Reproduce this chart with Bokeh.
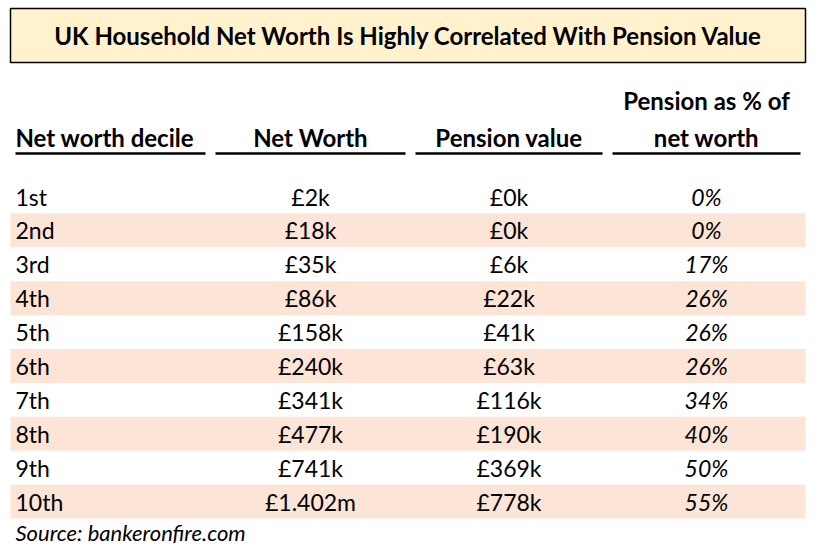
from bokeh.plotting import figure
from bokeh.models import Range1d, ColumnDataSource
from bokeh.core.properties import value
from bokeh.embed import file_html
from bokeh.resources import INLINE

title = "UK Household Net Worth Is Highly Correlated With Pension Value"
headers = ["Net worth decile", "Net Worth", "Pension value", "net worth"]
header_top = "Pension as % of"
deciles = ["1st", "2nd", "3rd", "4th", "5th", "6th", "7th", "8th", "9th", "10th"]
net_worth = ["£2k", "£18k", "£35k", "£86k", "£158k", "£240k", "£341k", "£477k", "£741k", "£1.402m"]
pension = ["£0k", "£0k", "£6k", "£22k", "£41k", "£63k", "£116k", "£190k", "£369k", "£778k"]
pct = ["0%", "0%", "17%", "26%", "26%", "26%", "34%", "40%", "50%", "55%"]
source = "Source: bankeronfire.com"

FONT = "Lato"
W, H = 808, 548
p = figure(width=W, height=H, output_backend="svg", toolbar_location=None,
           x_range=Range1d(0, W), y_range=Range1d(H, 0),
           min_border=0)
p.axis.visible = False
p.grid.visible = False
p.outline_line_color = None
p.background_fill_color = "white"

# Title box
p.quad(left=10, right=805, top=8, bottom=62, fill_color="#FFF2CC",
       line_color="black", line_width=1.5)
p.text(x=[408], y=[35], text=[title], text_font=value(FONT), text_font_style="bold",
       text_font_size="24px", text_align="center", text_baseline="middle", text_color="black")

# Column layout
col_left = [15, 215, 415, 612]
col_right = [205, 405, 602, 800]
col_center = [(a + b) / 2 for a, b in zip(col_left, col_right)]

# Headers
hx = [col_left[0], col_center[1], col_center[2], col_center[3]]
aligns = ["left", "center", "center", "center"]
for t, x, a in zip(headers, hx, aligns):
    p.text(x=[x], y=[137], text=[t], text_font=value(FONT), text_font_style="bold",
           text_font_size="24px", text_align=a, text_baseline="middle", text_color="black")
p.text(x=[col_center[3]], y=[100], text=[header_top], text_font=value(FONT),
       text_font_style="bold", text_font_size="24px", text_align="center",
       text_baseline="middle", text_color="black")
p.segment(x0=col_left, x1=col_right, y0=[153] * 4, y1=[153] * 4,
          line_color="black", line_width=2.5)

# Rows
row0, step = 196, 33.9
ys = [row0 + i * step for i in range(len(deciles))]
shade_y = [y for i, y in enumerate(ys) if i % 2 == 1]
p.quad(left=10, right=805, top=[y - step / 2 for y in shade_y],
       bottom=[y + step / 2 for y in shade_y], fill_color="#FCE4D6", line_color=None)

src = ColumnDataSource(dict(y=ys, d=deciles, nw=net_worth, pv=pension, pc=pct))
common = dict(source=src, y="y", text_font=value(FONT), text_font_size="23px",
              text_baseline="middle", text_color="black")
p.text(x=col_left[0], text="d", text_align="left", **common)
p.text(x=col_center[1], text="nw", text_align="center", **common)
p.text(x=col_center[2], text="pv", text_align="center", **common)
p.text(x=col_center[3], text="pc", text_align="center", text_font_style="italic", **common)

p.text(x=[15], y=[532], text=[source], text_font=value(FONT), text_font_style="italic",
       text_font_size="22px", text_align="left", text_baseline="middle", text_color="black")

open("out.html", "w").write(file_html(p, INLINE))
